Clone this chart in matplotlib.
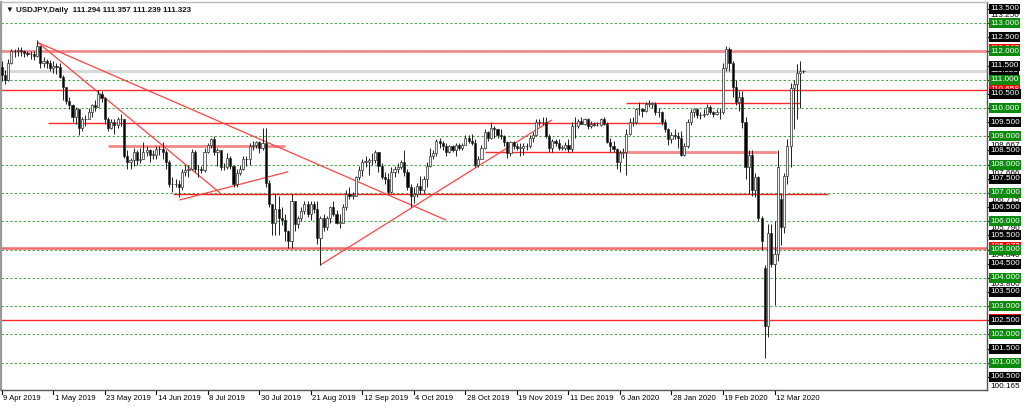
import matplotlib
matplotlib.use("Agg")
import matplotlib.pyplot as plt
import matplotlib.transforms as mtransforms
from matplotlib.lines import Line2D

# USDJPY daily, 9 Apr 2019 .. 25 Mar 2020 (one value per trading day)
closes = [
    111.15, 111.0, 111.6, 112.0, 112.0, 112.05, 112.0, 111.95, 111.9, 111.9,
    111.85, 112.2, 111.6, 111.65, 111.6, 111.4, 111.5, 111.45, 111.1, 110.75,
    110.25, 110.1, 109.7, 109.95, 109.3, 109.6, 109.6, 109.85, 110.1, 110.05,
    110.5, 110.35, 109.6, 109.3, 109.5, 109.4, 109.6, 109.6, 108.3, 108.1,
    108.15, 108.45, 108.15, 108.2, 108.45, 108.5, 108.35, 108.35, 108.55, 108.55,
    108.45, 108.1, 107.3, 107.3, 107.3, 107.2, 107.75, 107.8, 107.85, 108.45,
    107.85, 107.85, 107.8, 108.45, 108.7, 108.9, 108.45, 108.5, 107.9, 107.9,
    108.25, 107.95, 107.3, 107.7, 107.85, 108.2, 108.2, 108.65, 108.7, 108.8,
    108.6, 108.75, 107.35, 106.6, 105.95, 106.45, 106.1, 106.05, 105.65, 105.3,
    106.7, 105.9, 106.1, 106.35, 106.6, 106.25, 106.6, 106.45, 105.4, 106.1,
    105.8, 106.1, 106.5, 106.25, 105.95, 105.95, 106.5, 106.95, 106.9, 106.9,
    107.55, 107.8, 108.1, 108.1, 108.15, 108.15, 108.45, 107.95, 107.55, 107.5,
    107.05, 107.75, 107.85, 107.9, 108.1, 107.75, 107.2, 106.9, 106.95, 107.25,
    107.1, 107.5, 107.95, 108.3, 108.4, 108.85, 108.75, 108.65, 108.45, 108.65,
    108.5, 108.7, 108.6, 108.7, 108.95, 108.85, 108.75, 108.0, 108.2, 108.6,
    109.15, 108.95, 109.3, 109.25, 109.05, 109.0, 108.8, 108.4, 108.8, 108.65,
    108.6, 108.6, 108.65, 108.65, 108.95, 109.05, 109.5, 109.5, 109.5, 109.0,
    108.6, 108.85, 108.75, 108.6, 108.6, 108.7, 108.55, 109.35, 109.35, 109.55,
    109.45, 109.6, 109.35, 109.45, 109.4, 109.4, 109.6, 109.45, 108.8, 108.65,
    108.55, 108.1, 108.4, 108.45, 109.1, 109.5, 109.5, 109.95, 109.95, 109.9,
    110.15, 110.15, 110.15, 109.85, 109.85, 109.5, 109.25, 108.9, 109.05, 109.0,
    108.95, 108.35, 108.65, 109.5, 109.85, 109.95, 109.75, 109.75, 109.8, 110.05,
    109.85, 109.8, 109.85, 109.85, 111.4, 112.1, 111.6, 110.75, 110.2, 110.4,
    109.5, 107.9, 108.35, 107.1, 107.55, 106.1, 105.3, 102.3, 105.6, 104.5,
    104.85, 107.9, 105.8, 107.6, 108.65, 110.7, 110.85, 111.25, 111.294, 111.323,
]
highs = [
    111.65, 111.35, 111.75, 112.1, 112.1, 112.15, 112.15, 112.05, 112.0, 112.0,
    112.0, 112.4, 112.2, 111.8, 111.75, 111.7, 111.65, 111.6, 111.6, 111.15,
    110.75, 110.4, 110.15, 110.05, 109.95, 109.7, 109.75, 110.0, 110.15, 110.3,
    110.65, 110.6, 110.4, 109.7, 109.6, 109.6, 109.7, 109.8, 109.6, 108.5,
    108.25, 108.6, 108.5, 108.6, 108.8, 108.65, 108.55, 108.5, 108.65, 108.65,
    108.8, 108.5, 108.15, 107.55, 107.5, 107.45, 107.85, 108.0, 108.0, 108.55,
    108.5, 108.0, 107.95, 108.6, 108.75, 108.95, 109.0, 108.6, 108.5, 108.05,
    108.4, 108.3, 108.0, 107.85, 108.0, 108.3, 108.3, 108.75, 108.85, 108.85,
    108.85, 109.3, 109.3, 107.45, 106.6, 107.0, 106.9, 106.5, 106.25, 105.7,
    106.95, 106.7, 106.2, 106.5, 106.7, 106.7, 106.7, 106.7, 106.7, 106.2,
    106.25, 106.2, 106.55, 106.7, 106.4, 106.25, 106.6, 107.1, 107.2, 107.05,
    107.6, 107.95, 108.2, 108.3, 108.25, 108.4, 108.5, 108.45, 108.05, 107.75,
    107.7, 107.9, 107.95, 108.05, 108.15, 108.5, 107.85, 107.3, 107.2, 107.35,
    107.6, 107.6, 108.1, 108.6, 108.5, 108.9, 108.95, 108.85, 108.75, 108.7,
    108.7, 108.75, 108.75, 108.75, 109.05, 109.05, 109.1, 108.9, 108.3, 108.7,
    109.25, 109.2, 109.5, 109.35, 109.25, 109.25, 109.05, 108.85, 108.85, 108.85,
    108.75, 108.75, 108.75, 108.75, 109.05, 109.15, 109.6, 109.6, 109.7, 109.7,
    109.1, 108.9, 108.9, 108.9, 108.7, 108.8, 108.9, 109.5, 109.7, 109.6,
    109.7, 109.65, 109.65, 109.55, 109.5, 109.5, 109.65, 109.7, 109.5, 108.95,
    108.85, 108.6, 108.5, 108.6, 109.25, 109.65, 109.7, 110.0, 110.2, 110.0,
    110.2, 110.3, 110.2, 110.2, 110.0, 109.9, 109.6, 109.3, 109.15, 109.25,
    109.15, 109.2, 108.75, 109.6, 109.95, 110.0, 110.0, 109.85, 109.95, 110.15,
    110.1, 109.9, 109.95, 110.0, 111.6, 112.2, 112.15, 111.65, 111.0, 110.6,
    110.6, 109.7, 108.5, 108.5, 107.7, 107.6, 106.2, 104.45, 105.9, 105.9,
    106.0, 108.5, 107.0, 107.7, 108.9, 110.9, 111.0, 111.55, 111.65, 111.357,
]
lows = [
    110.95, 110.85, 110.95, 111.55, 111.8, 111.85, 111.85, 111.8, 111.85, 111.75,
    111.7, 111.8, 111.4, 111.45, 111.4, 111.3, 111.25, 111.2, 111.05, 110.3,
    110.15, 109.95, 109.5, 109.45, 109.05, 109.2, 109.35, 109.6, 109.7, 109.9,
    110.05, 110.2, 109.45, 109.2, 109.25, 109.1, 109.3, 109.35, 108.25, 107.85,
    107.85, 107.95, 108.0, 108.05, 108.2, 108.3, 108.1, 108.2, 108.2, 108.35,
    108.2, 107.85, 107.2, 107.05, 107.2, 106.85, 107.1, 107.6, 107.55, 107.8,
    107.75, 107.55, 107.7, 107.75, 108.4, 108.6, 108.35, 107.95, 107.8, 107.8,
    107.85, 107.85, 107.2, 107.2, 107.65, 107.8, 107.95, 108.0, 108.5, 108.6,
    108.4, 108.5, 107.2, 106.5, 105.5, 105.5, 105.5, 105.85, 105.3, 105.05,
    105.05, 105.65, 105.75, 106.0, 106.25, 106.15, 106.05, 106.3, 105.2, 104.45,
    105.65, 105.7, 105.95, 106.2, 105.9, 105.75, 105.95, 106.4, 106.8, 106.8,
    106.9, 107.45, 107.6, 107.9, 107.65, 108.0, 108.05, 107.75, 107.5, 107.3,
    106.95, 107.0, 107.55, 107.7, 107.85, 107.6, 107.1, 106.5, 106.65, 106.85,
    106.95, 107.0, 107.2, 107.9, 108.2, 108.3, 108.6, 108.5, 108.3, 108.4,
    108.45, 108.3, 108.5, 108.5, 108.7, 108.75, 108.7, 107.9, 107.9, 108.2,
    108.55, 108.85, 108.9, 108.95, 108.95, 108.9, 108.65, 108.25, 108.3, 108.55,
    108.5, 108.3, 108.35, 108.5, 108.6, 108.8, 109.0, 109.35, 109.4, 108.95,
    108.45, 108.45, 108.65, 108.5, 108.5, 108.5, 108.45, 108.45, 108.95, 109.3,
    109.45, 109.4, 109.25, 109.3, 109.35, 109.35, 109.35, 109.4, 108.75, 108.45,
    108.45, 107.85, 107.75, 108.25, 107.65, 109.05, 109.35, 109.45, 109.75, 109.7,
    109.85, 110.05, 110.0, 109.75, 109.7, 109.4, 109.15, 108.7, 108.75, 108.9,
    108.6, 108.3, 108.3, 108.6, 109.4, 109.7, 109.65, 109.6, 109.7, 109.75,
    109.8, 109.7, 109.75, 109.6, 109.8, 111.3, 111.3, 110.4, 110.1, 109.9,
    109.3, 107.5, 107.0, 106.9, 106.85, 106.0, 105.0, 101.18, 101.9, 104.4,
    103.05, 104.6, 105.15, 105.6, 107.3, 107.9, 109.25, 109.6, 110.0, 111.239,
]
first_open = 111.45
gap_opens = {237: 104.35, 242: 106.8}   # weekend gaps (9 Mar, 16 Mar)

date_labels = ['9 Apr 2019', '1 May 2019', '23 May 2019', '14 Jun 2019', '8 Jul 2019',
               '30 Jul 2019', '21 Aug 2019', '12 Sep 2019', '4 Oct 2019', '28 Oct 2019',
               '19 Nov 2019', '11 Dec 2019', '6 Jan 2020', '28 Jan 2020', '19 Feb 2020',
               '12 Mar 2020']
date_step = 16

grid_levels = [101, 102, 103, 104, 105, 106, 107, 108, 109, 110, 111, 112, 113]
axis_levels = [100.5 + 0.5 * k for k in range(27)]

# full-width horizontal levels: price, colour, width
full_lines = [(112.03, '#f28b8b', 2.0), (111.323, '#d8d8d8', 2.2),
              (110.64, '#ff2b2b', 1.0), (105.07, '#f46a6a', 1.8),
              (102.52, '#ff2b2b', 1.0)]
# drawn objects: (bar0, price0), (bar1, price1), colour, width
objects = [
    ((14.4, 109.47), (206.0, 109.47), '#ff2b2b', 1.0),
    ((33.0, 108.67), (88.0, 108.67), '#f48a8a', 2.0),
    ((53.2, 106.96), (256.6, 106.96), '#e82020', 1.0),
    ((150.1, 108.43), (195.0, 108.43), '#ff2b2b', 1.0),
    ((194.0, 108.43), (240.7, 108.43), '#f48a8a', 2.0),
    ((193.9, 110.17), (248.0, 110.17), '#ff2b2b', 1.0),
    ((11.3, 112.31), (138.0, 106.04), '#ff4545', 0.9),
    ((11.3, 112.31), (67.8, 107.0), '#ff4545', 0.9),
    ((55.2, 106.75), (89.0, 107.75), '#ff4545', 0.9),
    ((98.9, 104.45), (170.9, 109.58), '#ff4545', 0.9),
]
# small price tags of the objects on the right scale: price, text, box, text colour
object_tags = [
    (113.26, '113.250', 'white', 'black'), (112.09, '112.047', '#ff0000', 'white'),
    (111.323, '111.323', 'black', 'white'), (110.67, '110.658', '#ff0000', 'white'),
    (108.66, '108.667', 'white', 'black'), (107.70, '107.666', 'white', 'black'),
    (106.72, '106.715', 'white', 'black'), (105.74, '105.790', 'white', 'black'),
    (105.10, '105.073', '#ff0000', 'white'), (104.80, '104.840', 'white', 'black'),
    (103.78, '103.800', 'white', 'black'), (102.56, '102.522', '#ff0000', 'white'),
    (100.165, '100.165', 'white', 'black'),
]

opens = [first_open] + closes[:-1]
for i, v in gap_opens.items():
    opens[i] = v

small_font = ['Liberation Sans', 'DejaVu Sans']

W, H = 1024, 407
fig = plt.figure(figsize=(W / 100, H / 100), dpi=100)
ax = fig.add_axes([1 / W, 17 / H, 986 / W, 388 / H])
px_per_bar = 3.22
ax.set_xlim(-0.7 / px_per_bar, -0.7 / px_per_bar + 986 / px_per_bar)
ax.set_ylim(100.037, 113.747)
ax.set_xticks([])
ax.set_yticks([])
for side in ['left', 'right', 'bottom', 'top']:
    ax.spines[side].set_color('#555555')
    ax.spines[side].set_linewidth(1.0)
ax.spines['left'].set_color('#999999')
ax.spines['left'].set_linewidth(1.6)
ax.spines['top'].set_color('#bbbbbb')

for lv in grid_levels:
    ax.axhline(lv, color='#45a845', lw=0.8, ls=(0, (2.0, 2.0)), zorder=1)
for p, c, lw in full_lines:
    ax.axhline(p, color=c, lw=lw, zorder=1.5)
for (x0, y0), (x1, y1), c, lw in objects:
    ax.plot([x0, x1], [y0, y1], color=c, lw=lw, zorder=1.6, solid_capstyle='butt')

# candles
n = len(closes)
xs = list(range(n))
lo = [min(lows[i], opens[i], closes[i]) for i in xs]
hi = [max(highs[i], opens[i], closes[i]) for i in xs]
ax.vlines(xs, lo, hi, color='#202020', lw=0.7, zorder=3)
body_h = [max(abs(closes[i] - opens[i]), 0.012) for i in xs]
bottoms = [min(opens[i], closes[i]) for i in xs]
face = ['#f2f2f2' if closes[i] >= opens[i] else 'black' for i in xs]
ax.bar(xs, body_h, bottom=bottoms, width=0.68, color=face,
       edgecolor='#303030', linewidth=0.5, zorder=4)

# title
ax.text(5 / 986, 1 - 9 / 388, '\u25bc USDJPY,Daily  111.294 111.357 111.239 111.323',
        transform=ax.transAxes, fontsize=5.7, fontweight='bold', family=small_font,
        color='#111111', ha='left', va='center')

# price scale
ytrans = mtransforms.blended_transform_factory(ax.transAxes, ax.transData)
xlab = 1 + 3.0 / 986
for p, t, bc, tc in object_tags:
    ax.text(xlab, p, t, transform=ytrans, fontsize=5.9, family=small_font, color=tc,
            ha='left', va='center', clip_on=False, zorder=5,
            bbox=dict(boxstyle='square,pad=0.18', fc=bc, ec='none'))
for lv in axis_levels:
    green = abs(lv - round(lv)) < 1e-9
    ax.text(xlab, lv, '%.3f' % lv, transform=ytrans, fontsize=5.9, family=small_font,
            color='white', ha='left', va='center', clip_on=False, zorder=6,
            bbox=dict(boxstyle='square,pad=0.18', fc='#0a8a0a' if green else 'black', ec='none'))
    ax.add_line(Line2D([1, 1 + 3 / 986], [lv, lv], transform=ytrans, color='black',
                       lw=0.8, clip_on=False))

# time scale
xtrans = mtransforms.blended_transform_factory(ax.transData, ax.transAxes)
for k, lab in enumerate(date_labels):
    b = k * date_step
    ax.add_line(Line2D([b, b], [0, -4 / 388], transform=xtrans, color='black', lw=0.8,
                       clip_on=False))
    ax.text(b + 0.4, -9 / 388, lab, transform=xtrans, fontsize=5.6, family=small_font,
            color='black', ha='left', va='center', clip_on=False)

fig.savefig('out.png', dpi=100, facecolor='white')
